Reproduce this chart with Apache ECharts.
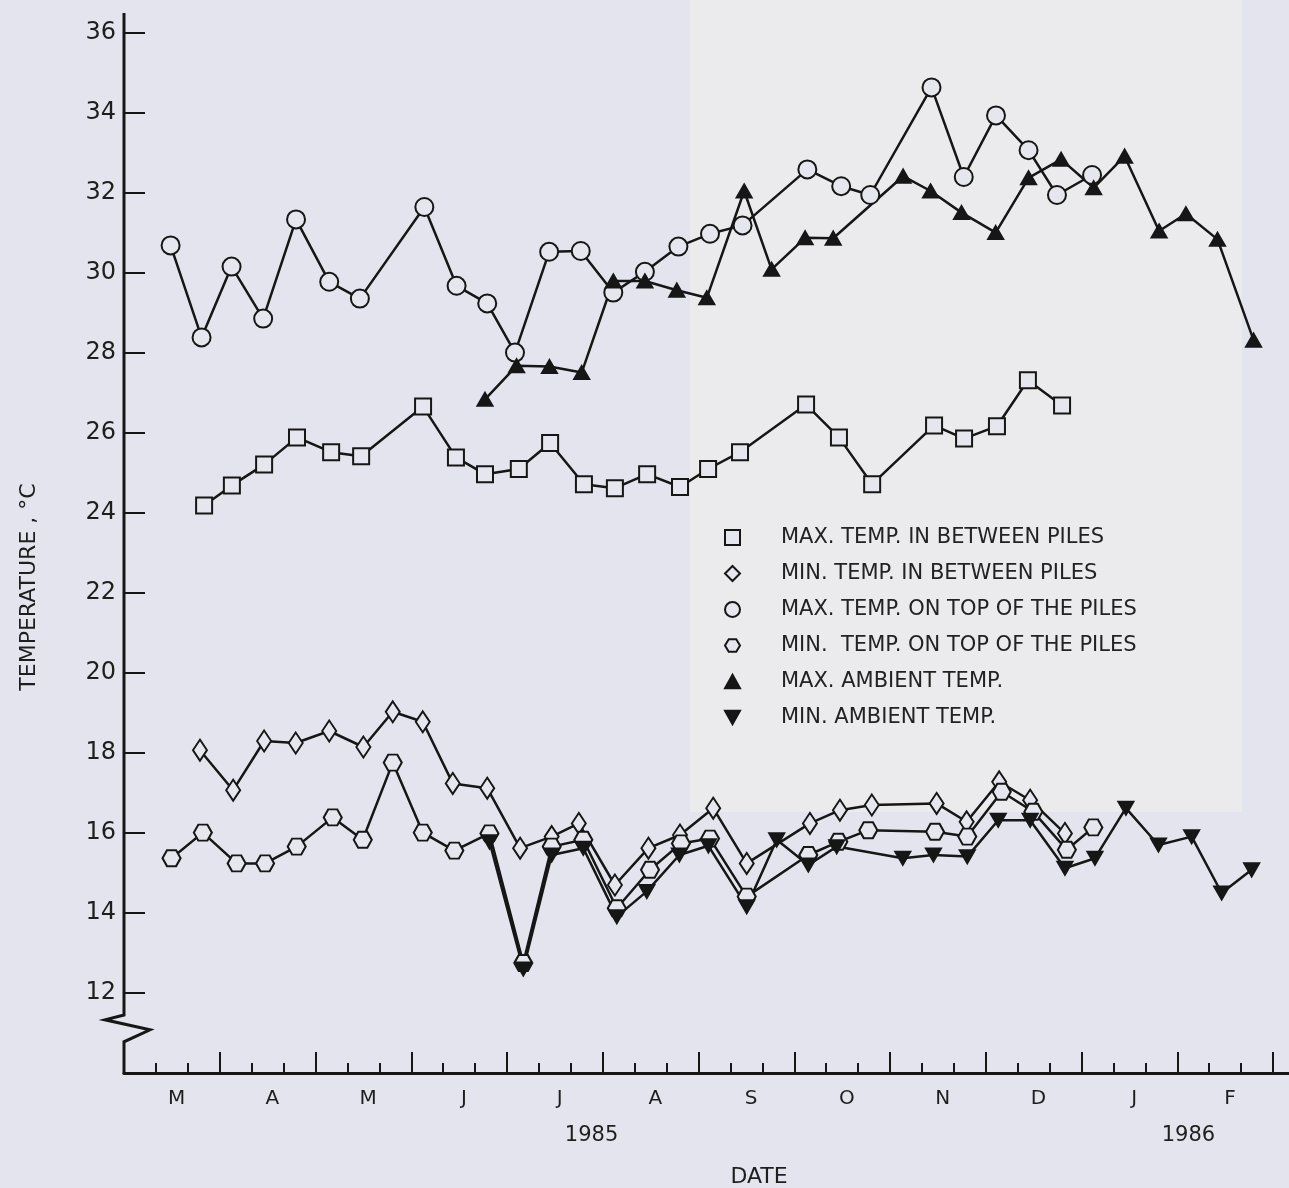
<!DOCTYPE html>
<html>
<head>
<meta charset="utf-8">
<script src="https://cdn.jsdelivr.net/npm/echarts@6/dist/echarts.min.js"></script>
<style>
html,body{margin:0;padding:0;background:#e4e4ee;}
#c{width:1289px;height:1188px;}
</style>
</head>
<body>
<div id="c"></div>
<script>
// x positions are in 10-day periods (thirds of a month) counted from 1 March 1985
const months = ['M','A','M','J','J','A','S','O','N','D','J','F'];
const years = ['1985','1986'];

const maxBetweenX = [2.51,3.38,4.39,5.42,6.49,7.43,9.37,10.40,11.31,12.37,13.35,14.41,15.38,16.39,17.42,18.30,19.30,21.37,22.40,23.44,25.38,26.32,27.35,28.32,29.39];
const maxBetweenY = [24.19,24.69,25.21,25.89,25.52,25.42,26.66,25.39,24.97,25.10,25.75,24.72,24.62,24.97,24.65,25.10,25.52,26.71,25.89,24.72,26.19,25.86,26.17,27.32,26.69];

const minBetweenX = [2.38,3.42,4.39,5.38,6.43,7.50,8.42,9.36,10.30,11.38,12.41,13.40,14.25,15.38,16.43,17.42,18.46,19.51,21.49,22.43,23.43,25.46,26.40,27.42,28.39,29.48];
const minBetweenY = [18.07,17.07,18.30,18.25,18.55,18.15,19.03,18.78,17.24,17.12,15.62,15.91,16.24,14.70,15.62,15.95,16.62,15.24,16.24,16.57,16.70,16.74,16.28,17.28,16.82,15.99];

const maxTopX = [1.46,2.43,3.37,4.36,5.39,6.43,7.39,9.41,10.42,11.38,12.25,13.32,14.31,15.33,16.32,17.37,18.36,19.38,21.41,22.47,23.38,25.30,26.31,27.32,28.34,29.23,30.33];
const maxTopY = [30.69,28.39,30.16,28.86,31.34,29.78,29.36,31.65,29.68,29.24,28.01,30.53,30.55,29.51,30.03,30.66,30.98,31.19,32.59,32.17,31.95,34.64,32.40,33.94,33.07,31.95,32.45];

const minTopX = [1.49,2.47,3.53,4.42,5.41,6.54,7.48,8.42,9.36,10.35,11.45,12.51,13.40,14.39,15.44,16.48,17.45,18.36,19.51,21.44,22.38,23.32,25.41,26.42,27.50,28.49,29.54,30.37];
const minTopY = [15.37,16.01,15.24,15.24,15.66,16.39,15.83,17.76,16.01,15.56,15.99,12.75,15.66,15.83,14.12,15.08,15.74,15.86,14.41,15.45,15.78,16.07,16.03,15.91,17.03,16.53,15.58,16.14];

const maxAmbX = [11.31,12.30,13.33,14.34,15.33,16.32,17.32,18.26,19.43,20.29,21.34,22.22,24.41,25.27,26.24,27.31,28.34,29.36,30.38,31.35,32.43,33.27,34.26,35.39];
const maxAmbY = [26.84,27.68,27.66,27.51,29.80,29.80,29.57,29.38,32.05,30.09,30.88,30.87,32.42,32.05,31.51,31.01,32.38,32.84,32.13,32.92,31.05,31.48,30.84,28.32];

const minAmbX = [11.45,12.51,13.40,14.39,15.44,16.38,17.40,18.31,19.51,20.45,21.44,22.33,24.40,25.36,26.42,27.39,28.39,29.48,30.42,31.39,32.41,33.45,34.39,35.33];
const minAmbY = [15.78,12.60,15.45,15.62,13.91,14.54,15.45,15.68,14.16,15.83,15.20,15.66,15.37,15.45,15.41,16.32,16.32,15.12,15.37,16.62,15.70,15.91,14.50,15.08];

const seriesNames = [
  'MAX. TEMP. IN BETWEEN PILES',
  'MIN. TEMP. IN BETWEEN PILES',
  'MAX. TEMP. ON TOP OF THE PILES',
  'MIN.  TEMP. ON TOP OF THE PILES',
  'MAX. AMBIENT TEMP.',
  'MIN. AMBIENT TEMP.'
];

const INK = '#161616';
const FILL = '#e6e6ee';
const FONT = '"DejaVu Sans", sans-serif';
const HEX = 'path://M0,5 L3,0 L9,0 L12,5 L9,10 L3,10 Z';
const TRI_DOWN = 'path://M0,0 L10,0 L5,9 Z';
const TRI_UP = 'path://M5,0 L10,9 L0,9 Z';

function pts(xs, ys){ return xs.map((x,i)=>[x, ys[i]]); }

function mkSeries(name, xs, ys, symbol, size, filled){
  return {
    name: name, type: 'line', xAxisIndex: 0, yAxisIndex: 0,
    data: pts(xs, ys),
    symbol: symbol, symbolSize: size, showSymbol: true, showAllSymbol: true,
    lineStyle: {color: INK, width: 2.5},
    itemStyle: {color: filled ? INK : FILL, borderColor: INK, borderWidth: 2},
    emphasis: {disabled: true},
    animation: false
  };
}

const series = [
  mkSeries(seriesNames[0], maxBetweenX, maxBetweenY, 'rect', 16, false),
  mkSeries(seriesNames[1], minBetweenX, minBetweenY, 'diamond', [14, 21], false),
  mkSeries(seriesNames[2], maxTopX, maxTopY, 'circle', 18, false),
  mkSeries(seriesNames[3], minTopX, minTopY, HEX, [18, 16], false),
  mkSeries(seriesNames[4], maxAmbX, maxAmbY, TRI_UP, [15, 13], true),
  mkSeries(seriesNames[5], minAmbX, minAmbY, TRI_DOWN, [15, 13], true)
];

const legendIcons = ['rect', 'diamond', 'circle', HEX, TRI_UP, TRI_DOWN];

const XMAX = 36.5;
// tick positions: month boundaries and 10-day marks; month letters sit near the middle of each month
const monthStarts = months.map((m, i) => i * 3).concat([months.length * 3]);
const dekadTicks = [];
for (let i = 0; i <= months.length * 3; i++) dekadTicks.push(i);
const LABEL_POS = 1.65;
const monthMids = months.map((m, i) => i * 3 + LABEL_POS);

const chart = echarts.init(document.getElementById('c'), null, {renderer: 'canvas'});

const option = {
  backgroundColor: '#e4e4ee',
  animation: false,
  textStyle: {fontFamily: FONT},
  grid: {left: 124, right: 0, top: 33, bottom: 115, containLabel: false},
  legend: {
    orient: 'vertical', left: 719, top: 522,
    itemWidth: 15, itemHeight: 15, itemGap: 15,
    selectedMode: false,
    textStyle: {fontSize: 21, fontFamily: FONT, color: '#222', lineHeight: 21, padding: [0, 0, 0, 36]},
    data: seriesNames.map((n, i) => ({name: n, icon: legendIcons[i]}))
  },
  xAxis: [
    {
      type: 'value', min: 0, max: XMAX, position: 'bottom',
      axisLine: {show: true, lineStyle: {color: INK, width: 3}},
      axisTick: {show: true, inside: true, length: 10, customValues: dekadTicks, lineStyle: {color: INK, width: 2}},
      splitLine: {show: false},
      axisLabel: {
        fontSize: 20, color: '#1e1e1e', fontFamily: FONT, margin: 16,
        customValues: monthMids,
        formatter: function(v){
          const k = Math.round((v - LABEL_POS) / 3);
          return months[k] || '';
        }
      }
    },
    {
      type: 'value', min: 0, max: XMAX, position: 'bottom',
      axisLine: {show: false}, axisLabel: {show: false}, splitLine: {show: false},
      axisTick: {show: true, inside: true, length: 21, customValues: monthStarts, lineStyle: {color: INK, width: 2}}
    }
  ],
  yAxis: {
    type: 'value', min: 10, max: 36, interval: 2,
    axisLine: {show: false}, splitLine: {show: false},
    axisTick: {show: true, inside: true, length: 21, lineStyle: {color: INK, width: 2}},
    axisLabel: {
      fontSize: 24, color: '#1e1e1e', fontFamily: FONT, margin: 8,
      formatter: function(v){ return v === 10 ? '' : String(v); }
    }
  },
  series: series
};

chart.setOption(option);

// axis line with break, drawn from axis coordinates
const P = (v) => chart.convertToPixel({gridIndex: 0}, [0, v]);
const ax = P(36)[0];
const yTop = P(36.5)[1];
const brkPts = [
  [ax, yTop],
  [ax, P(11.45)[1]],
  [ax - 19, P(11.33)[1]],
  [ax + 26, P(11.08)[1]],
  [ax, P(10.78)[1]],
  [ax, P(10)[1] + 1]
];
const yr1x = chart.convertToPixel({gridIndex: 0}, [14.65, 10])[0];
const yr2x = chart.convertToPixel({gridIndex: 0}, [33.35, 10])[0];

chart.setOption({
  graphic: [
    {type: 'rect', z: -1, silent: true, shape: {x: 690, y: 0, width: 552, height: 812}, style: {fill: '#ebebee'}},
    {type: 'polyline', z: 10, silent: true, shape: {points: brkPts}, style: {stroke: INK, lineWidth: 3, fill: null, lineJoin: 'miter'}},
    {type: 'text', silent: true, x: yr1x, y: 1136, style: {text: years[0], font: '21px ' + FONT, fill: '#1e1e1e', align: 'center', verticalAlign: 'middle'}},
    {type: 'text', silent: true, x: yr2x, y: 1136, style: {text: years[1], font: '21px ' + FONT, fill: '#1e1e1e', align: 'center', verticalAlign: 'middle'}},
    {type: 'text', silent: true, x: 759, y: 1177, style: {text: 'DATE', font: '22px ' + FONT, fill: '#1e1e1e', align: 'center', verticalAlign: 'middle'}},
    {type: 'text', silent: true, x: 29, y: 587, rotation: Math.PI / 2, style: {text: 'TEMPERATURE , °C', font: '22px ' + FONT, fill: '#1e1e1e', align: 'center', verticalAlign: 'middle'}}
  ]
});
</script>
</body>
</html>
